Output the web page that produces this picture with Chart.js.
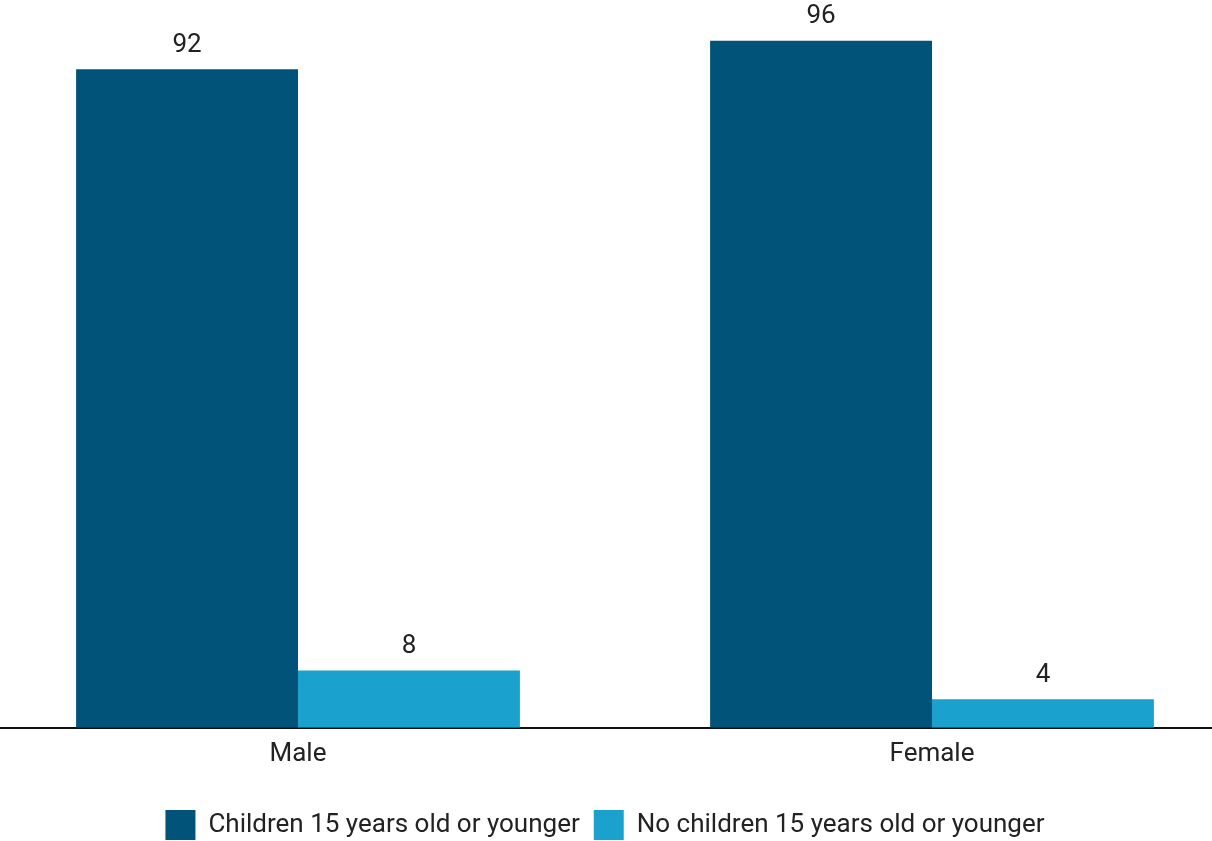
<!DOCTYPE html>
<html>
<head>
<meta charset="utf-8">
<script src="https://cdn.jsdelivr.net/npm/chart.js@4/dist/chart.umd.min.js"></script>
<style>
  html, body { margin: 0; padding: 0; background: #fff; overflow: hidden; }
  #wrap { position: absolute; left: -19px; top: 0; width: 1268px; height: 860px; }
</style>
</head>
<body>
<div id="wrap"><canvas id="genderChart"></canvas></div>
<script>
const categories = ['Male', 'Female'];
const withChildren = [92, 96];
const noChildren = [8, 4];
const seriesNames = ['Children 15 years old or younger', 'No children 15 years old or younger'];

// draws the value above each bar
const valueLabels = {
  id: 'valueLabels',
  afterDatasetsDraw(chart) {
    const ctx = chart.ctx;
    ctx.save();
    ctx.font = '26px Roboto';
    ctx.fillStyle = '#222';
    ctx.textAlign = 'center';
    ctx.textBaseline = 'middle';
    chart.data.datasets.forEach((ds, i) => {
      chart.getDatasetMeta(i).data.forEach((bar, j) => {
        ctx.fillText(ds.data[j], bar.x, bar.y - 24);
      });
    });
    ctx.restore();
  }
};

// nudge the legend a bit to the left, like the original
const legendShift = {
  id: 'legendShift',
  afterLayout(chart) {
    chart.legend.left -= 10;
    chart.legend.right -= 10;
  }
};

const config = {
  type: 'bar',
  data: {
    labels: categories,
    datasets: [{
      label: seriesNames[0],
      data: withChildren,
      backgroundColor: '#01537A'
    }, {
      label: seriesNames[1],
      data: noChildren,
      backgroundColor: '#1AA1CE'
    }]
  },
  options: {
    responsive: true,
    maintainAspectRatio: false,
    animation: false,
    categoryPercentage: 0.7,
    barPercentage: 1.0,
    layout: { padding: { top: 12, bottom: 10 } },
    scales: {
      x: {
        grid: { display: false },
        border: { color: '#111', width: 2 },
        ticks: { color: '#222', font: { family: 'Roboto', size: 26 }, padding: 3 },
        afterFit(scale) { scale.height += 23; }
      },
      y: {
        display: false,
        min: 0,
        max: 100
      }
    },
    plugins: {
      tooltip: { enabled: false },
      legend: {
        position: 'bottom',
        labels: {
          boxWidth: 30,
          boxHeight: 30,
          padding: 14,
          color: '#222',
          font: { family: 'Roboto', size: 26 }
        }
      }
    }
  },
  plugins: [valueLabels, legendShift]
};

const myChart = new Chart(document.getElementById('genderChart'), config);
</script>
</body>
</html>
